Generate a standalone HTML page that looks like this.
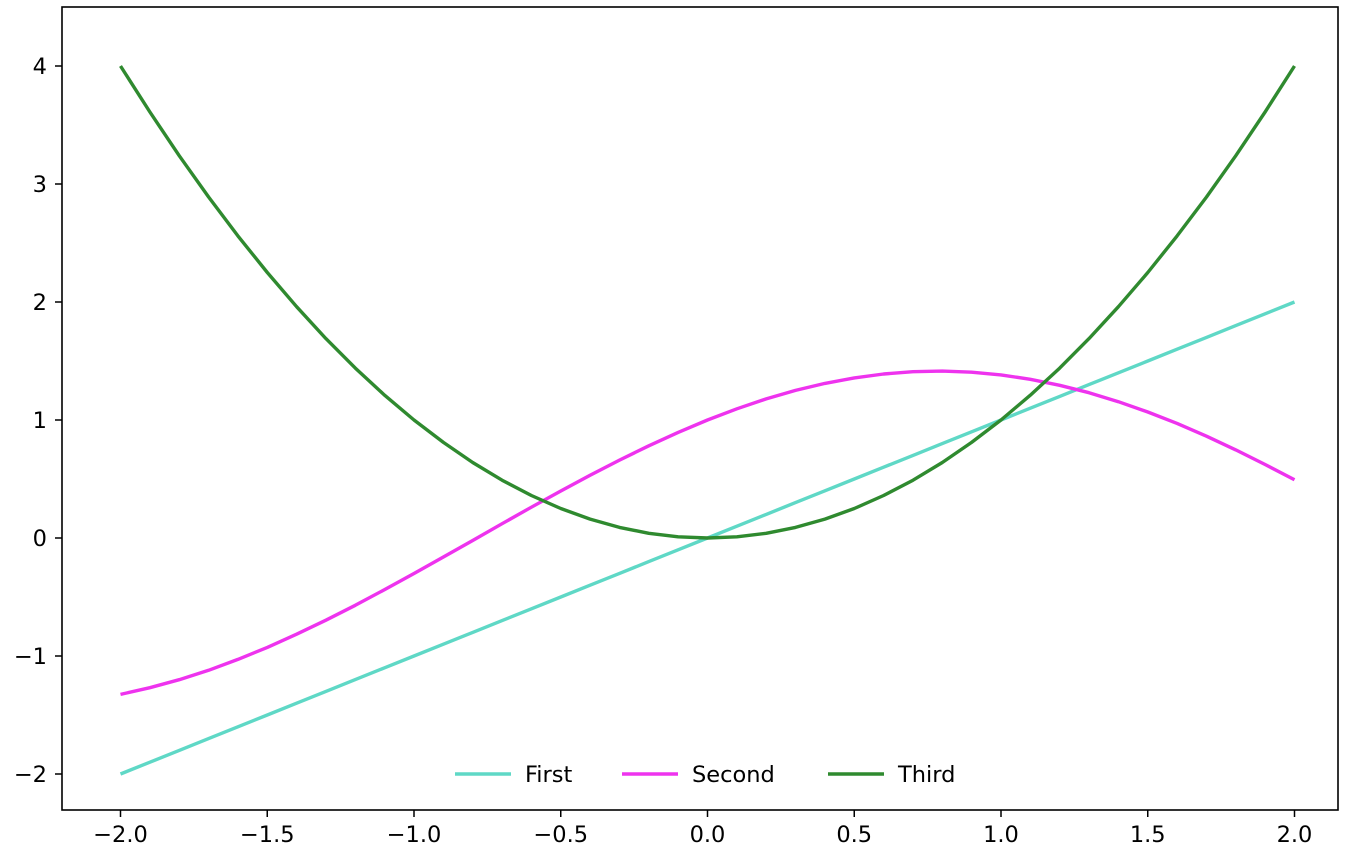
<!DOCTYPE html>
<html><head><meta charset="utf-8"><style>
body{margin:0;background:#fff;}
svg{display:block;font-family:"DejaVu Sans","Liberation Sans",sans-serif;}
</style></head><body>
<svg id="chart" width="1369" height="860">
<rect x="62" y="7" width="1276" height="803" fill="#fff" stroke="#000" stroke-width="1.6"/>
<g id="xt"></g>
<g id="yt"></g>
<g id="lines"></g>
<g id="legend"></g>
</svg>
<script>
const xs=[-2,-1.9,-1.8,-1.7,-1.6,-1.5,-1.4,-1.3,-1.2,-1.1,-1,-0.9,-0.8,-0.7,-0.6,-0.5,-0.4,-0.3,-0.2,-0.1,0,0.1,0.2,0.3,0.4,0.5,0.6,0.7,0.8,0.9,1,1.1,1.2,1.3,1.4,1.5,1.6,1.7,1.8,1.9,2];
const firstVals=[-2,-1.9,-1.8,-1.7,-1.6,-1.5,-1.4,-1.3,-1.2,-1.1,-1,-0.9,-0.8,-0.7,-0.6,-0.5,-0.4,-0.3,-0.2,-0.1,0,0.1,0.2,0.3,0.4,0.5,0.6,0.7,0.8,0.9,1,1.1,1.2,1.3,1.4,1.5,1.6,1.7,1.8,1.9,2];
const secondVals=[-1.325,-1.269,-1.201,-1.121,-1.029,-0.927,-0.815,-0.697,-0.570,-0.437,-0.301,-0.161,-0.021,0.121,0.261,0.398,0.532,0.660,0.781,0.895,1,1.095,1.179,1.251,1.310,1.357,1.390,1.409,1.414,1.405,1.382,1.345,1.294,1.231,1.155,1.068,0.971,0.863,0.747,0.623,0.493];
const thirdVals=[4,3.61,3.24,2.89,2.56,2.25,1.96,1.69,1.44,1.21,1,0.81,0.64,0.49,0.36,0.25,0.16,0.09,0.04,0.01,0,0.01,0.04,0.09,0.16,0.25,0.36,0.49,0.64,0.81,1,1.21,1.44,1.69,1.96,2.25,2.56,2.89,3.24,3.61,4];
const xTicks=[-2,-1.5,-1,-0.5,0,0.5,1,1.5,2];
const xTickLabels=["−2.0","−1.5","−1.0","−0.5","0.0","0.5","1.0","1.5","2.0"];
const yTicks=[-2,-1,0,1,2,3,4];
const yTickLabels=["−2","−1","0","1","2","3","4"];
const seriesNames=["First","Second","Third"];
const colors=["#5fd8c6","#ee33ee","#2f8a2f"];
const NS="http://www.w3.org/2000/svg";
const X=v=>120.5+(v+2)*293.5;
const Y=v=>538-v*118;
function mk(t,a,p){const e=document.createElementNS(NS,t);for(const k in a)e.setAttribute(k,a[k]);p.appendChild(e);return e;}
const xt=document.getElementById('xt');
xTicks.forEach((v,i)=>{
 const l=mk('line',{x1:X(v),x2:X(v),y1:810,y2:817,stroke:'#000','stroke-width':1.5},xt);
 
 
 const t=mk('text',{x:X(v),y:842,'text-anchor':'middle','font-size':22.5},xt);t.textContent=xTickLabels[i];
 
 
});
const yt=document.getElementById('yt');
yTicks.forEach((v,i)=>{
 const l=mk('line',{x1:55,x2:62,y1:Y(v),y2:Y(v),stroke:'#000','stroke-width':1.5},yt);
 
 
 const t=mk('text',{x:47,y:Y(v)+8,'text-anchor':'end','font-size':22.5},yt);t.textContent=yTickLabels[i];
 
 
});
const lg=document.getElementById('lines');
[firstVals,secondVals,thirdVals].forEach((vals,s)=>{
 const d=xs.map((x,i)=>(i?'L':'M')+X(x).toFixed(1)+','+Y(vals[i]).toFixed(1)).join(' ');
 const p=mk('path',{d:d,fill:'none',stroke:colors[s],'stroke-width':3.4,'stroke-linejoin':'round'},lg);
 
 
});
const leg=document.getElementById('legend');
const lx=[455,622,828];
seriesNames.forEach((n,i)=>{
 const l=mk('line',{x1:lx[i],x2:lx[i]+56,y1:774,y2:774,stroke:colors[i],'stroke-width':3.4},leg);
 
 
 const t=mk('text',{x:lx[i]+70,y:782,'font-size':22.5},leg);t.textContent=n;
 
 
});
</script>
</body></html>
